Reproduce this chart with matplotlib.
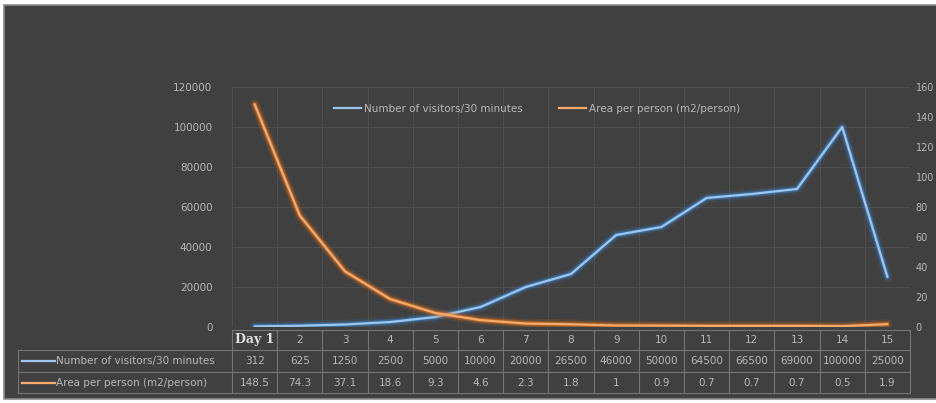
import matplotlib.pyplot as plt
import matplotlib.patches as mpatches
from matplotlib.lines import Line2D
import numpy as np

days = ["Day 1", "2", "3", "4", "5", "6", "7", "8", "9", "10", "11", "12", "13", "14", "15"]
visitors = [312, 625, 1250, 2500, 5000, 10000, 20000, 26500, 46000, 50000, 64500, 66500, 69000, 100000, 25000]
area = [148.5, 74.3, 37.1, 18.6, 9.3, 4.6, 2.3, 1.8, 1, 0.9, 0.7, 0.7, 0.7, 0.5, 1.9]
visitor_txt = ["312", "625", "1250", "2500", "5000", "10000", "20000", "26500", "46000",
               "50000", "64500", "66500", "69000", "100000", "25000"]
area_txt = ["148.5", "74.3", "37.1", "18.6", "9.3", "4.6", "2.3", "1.8", "1",
            "0.9", "0.7", "0.7", "0.7", "0.5", "1.9"]
name_v = "Number of visitors/30 minutes"
name_a = "Area per person (m2/person)"

BG = "#404040"
TXT = "#b8b8b8"
GRID = "#4d4d4d"
TLINE = "#767676"
BLUE, BLUE_GLOW = "#9cc6ee", "#3d85d0"
ORANGE, ORANGE_GLOW = "#f7aa6a", "#e8761f"

W, H = 936, 403
fig = plt.figure(figsize=(W / 100, H / 100), dpi=100, facecolor="white")
fig.patches.append(mpatches.Rectangle((4 / W, 4 / H), 1.1, (H - 9) / H, transform=fig.transFigure,
                                      facecolor=BG, edgecolor="#8c8c8c", lw=1.2, zorder=-1))

L, R, T, B = 232, 910, 87, 327
ax = fig.add_axes([L / W, (H - B) / H, (R - L) / W, (B - T) / H])
ax.set_facecolor("none")
ax2 = ax.twinx()

x = np.arange(len(days))

def glow(a, y, core, halo):
    for lw, al in [(7, 0.12), (4.5, 0.25), (3, 0.45)]:
        a.plot(x, y, color=halo, lw=lw, alpha=al, solid_capstyle="round", solid_joinstyle="round")
    a.plot(x, y, color=core, lw=1.6, solid_capstyle="round", solid_joinstyle="round")

glow(ax, visitors, BLUE, BLUE_GLOW)
glow(ax2, area, ORANGE, ORANGE_GLOW)

ax.set_xlim(-0.5, len(days) - 0.5)
ax.set_ylim(0, 120000)
ax2.set_ylim(0, 160)
ax.set_yticks(np.arange(0, 120001, 20000))
ax2.set_yticks(np.arange(0, 161, 20))
ax.set_xticks([])
for a in (ax, ax2):
    a.tick_params(axis="y", length=0, colors=TXT, labelsize=7.5)
    for s in a.spines.values():
        s.set_visible(False)
ax.tick_params(axis="y", pad=14)
ax2.tick_params(axis="y", pad=4, labelsize=7)

# grid
for yv in np.arange(20000, 120001, 20000):
    ax.axhline(yv, color=GRID, lw=0.8, zorder=0)
for xv in np.arange(-0.5, len(days), 1):
    ax.axvline(xv, color=GRID, lw=0.8, zorder=0)

# legend
handles = [Line2D([], [], color=BLUE, lw=1.6), Line2D([], [], color=ORANGE, lw=1.6)]
ax.legend(handles, [name_v, name_a], loc="upper center", bbox_to_anchor=(0.45, 0.97), ncol=2,
          frameon=False, fontsize=7.5, labelcolor=TXT, columnspacing=3.5, handlelength=2.6,
          handletextpad=0.3)

# data table below the plot
def yfr(py):
    return (B - py) / (B - T)

tr = ax.get_xaxis_transform()
n = len(days)
y_hdr_top, y_r1, y_r2, y_bot = yfr(330), yfr(350), yfr(372), yfr(393)
x_lab = -0.5 - (L - 18) / ((R - L) / n)
lkw = dict(color=TLINE, lw=0.8, clip_on=False, transform=tr)
ax.add_line(Line2D([-0.5, n - 0.5], [y_hdr_top] * 2, **lkw))
for yy in (y_r1, y_r2, y_bot):
    ax.add_line(Line2D([x_lab, n - 0.5], [yy] * 2, **lkw))
ax.add_line(Line2D([x_lab, x_lab], [y_r1, y_bot], **lkw))
for xv in np.arange(-0.5, n, 1):
    ax.add_line(Line2D([xv, xv], [y_hdr_top, y_bot], **lkw))

for i in range(n):
    if i == 0:
        ax.text(i, (y_hdr_top + y_r1) / 2, days[i], transform=tr, ha="center", va="center",
                color="#e0e0e0", fontsize=9, family="DejaVu Serif", fontweight="bold", clip_on=False)
    else:
        ax.text(i, (y_hdr_top + y_r1) / 2, days[i], transform=tr, ha="center", va="center",
                color=TXT, fontsize=7.5, clip_on=False)
    ax.text(i, (y_r1 + y_r2) / 2, visitor_txt[i], transform=tr, ha="center", va="center",
            color=TXT, fontsize=7.5, clip_on=False)
    ax.text(i, (y_r2 + y_bot) / 2, area_txt[i], transform=tr, ha="center", va="center",
            color=TXT, fontsize=7.5, clip_on=False)

key_x0 = -0.5 - (L - 22) / ((R - L) / n)
key_x1 = -0.5 - (L - 55) / ((R - L) / n)
for (yy0, yy1), col, name in [((y_r1, y_r2), BLUE, name_v), ((y_r2, y_bot), ORANGE, name_a)]:
    ym = (yy0 + yy1) / 2
    ax.add_line(Line2D([key_x0, key_x1], [ym, ym], color=col, lw=1.6, clip_on=False, transform=tr))
    ax.text(key_x1 + 0.02, ym, name, transform=tr, ha="left", va="center", color=TXT,
            fontsize=7.5, clip_on=False)

fig.savefig("out.png", dpi=100, facecolor=fig.get_facecolor())
